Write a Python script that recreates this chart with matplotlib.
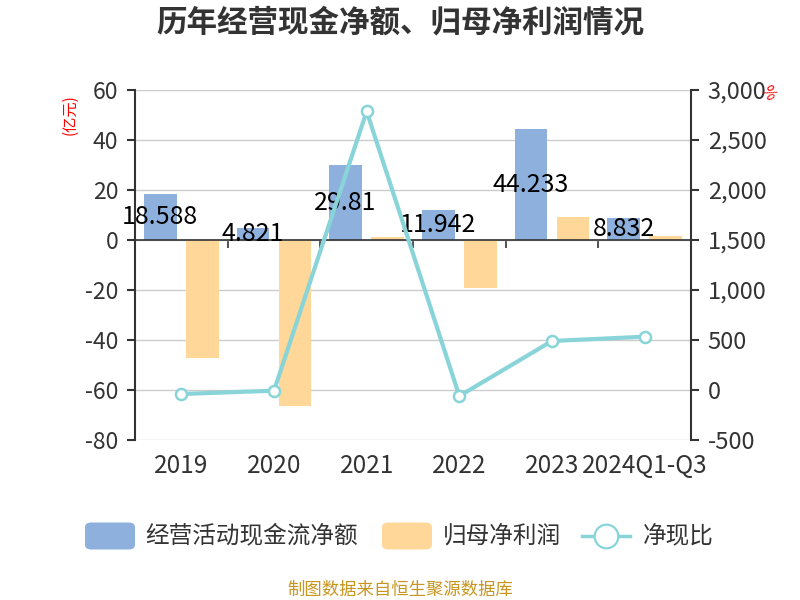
import matplotlib.pyplot as plt
import matplotlib.transforms as mtransforms
from matplotlib.patches import FancyBboxPatch
from matplotlib.lines import Line2D
import numpy as np

plt.rcParams['font.family'] = ['Noto Sans CJK SC', 'DejaVu Sans']
plt.rcParams['axes.unicode_minus'] = False

# 数据
years = ['2019', '2020', '2021', '2022', '2023', '2024Q1-Q3']
cash_flow = [18.588, 4.821, 29.81, 11.942, 44.233, 8.832]      # 经营活动现金流净额（亿元）
net_profit = [-47.0, -66.5, 1.07, -19.0, 9.05, 1.66]           # 归母净利润（亿元）
cash_ratio = [-40, -7, 2786, -60, 490, 533]                     # 净现比（%）
left_ticks = [60, 40, 20, 0, -20, -40, -60, -80]
right_ticks = [3000, 2500, 2000, 1500, 1000, 500, 0, -500]

c_blue = '#8eb0dc'
c_orange = '#ffd899'
c_line = '#88d4d8'
c_axis = '#333333'
c_grid = '#cccccc'

fig = plt.figure(figsize=(8, 6), dpi=100)
ax = fig.add_axes([135 / 800, 1 - 440 / 600, 556 / 800, 350 / 600])
ax2 = ax.twinx()

x = np.arange(len(years))
w = 0.35
off = 0.227
ax.bar(x - off, cash_flow, w, color=c_blue, zorder=2)
ax.bar(x + off, net_profit, w, color=c_orange, zorder=2)

# 柱子标签（位于柱子中部）
for xi, v in zip(x, cash_flow):
    ax.text(xi - off, v / 2, f'{v:g}', ha='center', va='center', fontsize=18, color='black', zorder=5)

ax.set_xlim(-0.5, len(years) - 0.5)
ax.set_ylim(-80, 60)
ax.set_yticks(left_ticks)
ax.yaxis.grid(True, color=c_grid, linewidth=1, zorder=0)
ax.set_axisbelow(True)

for s in ['top', 'right']:
    ax.spines[s].set_visible(False)
ax.spines['left'].set_color(c_axis)
ax.spines['left'].set_linewidth(1.5)
ax.spines['bottom'].set_position(('data', 0))
ax.spines['bottom'].set_color(c_axis)
ax.spines['bottom'].set_linewidth(1.2)
ax.spines['bottom'].set_zorder(3)

ax.set_xticks(x)
ax.set_xticklabels([])
ax.tick_params(axis='x', which='major', length=0)
ax.set_xticks(np.arange(0.5, len(years) - 1, 1), minor=True)
ax.tick_params(axis='x', which='minor', length=6, width=1.2, color=c_axis, direction='out')
ax.tick_params(axis='y', length=6, width=1.5, color=c_axis, labelcolor=c_axis, labelsize=16.5, pad=6)

trans = mtransforms.blended_transform_factory(ax.transData, ax.transAxes)
for xi, lab in zip(x, years):
    ax.text(xi, -0.075, lab, transform=trans, ha='center', va='center', fontsize=17.5, color=c_axis)

# 净现比折线
ax2.plot(x, cash_ratio, color=c_line, linewidth=3, marker='o', markersize=8,
         markerfacecolor='white', markeredgecolor=c_line, markeredgewidth=1.8, zorder=6)
ax2.set_ylim(-500, 3000)
ax2.set_yticks(right_ticks)
ax2.set_yticklabels([f'{t:,}' for t in right_ticks])
for s in ['top', 'left', 'bottom']:
    ax2.spines[s].set_visible(False)
ax2.spines['right'].set_color(c_axis)
ax2.spines['right'].set_linewidth(1.5)
ax2.tick_params(axis='y', length=6, width=1.5, color=c_axis, labelcolor=c_axis, labelsize=17, pad=6)

# 轴名称
fig.text(70 / 800, 1 - 115 / 600, '(亿元)', rotation=90, color='red', fontsize=11, ha='center', va='center')
fig.text(768 / 800, 1 - 93 / 600, '%', rotation=-60, color='red', fontsize=11, ha='center', va='center')

# 标题
fig.text(0.5, 1 - 22 / 600, '历年经营现金净额、归母净利润情况', ha='center', va='center',
         fontsize=22, fontweight='bold', color=c_axis)

# 图例
ly = 1 - 536 / 600
bw, bh = 50 / 800, 27 / 600
fig.patches.append(FancyBboxPatch((85 / 800, ly - bh / 2), bw, bh, boxstyle='round,pad=0,rounding_size=0.008',
                                  transform=fig.transFigure, facecolor=c_blue, edgecolor='none'))
fig.text(145 / 800, ly, '经营活动现金流净额', ha='left', va='center', fontsize=17, color=c_axis)
fig.patches.append(FancyBboxPatch((382 / 800, ly - bh / 2), bw, bh, boxstyle='round,pad=0,rounding_size=0.008',
                                  transform=fig.transFigure, facecolor=c_orange, edgecolor='none'))
fig.text(443 / 800, ly, '归母净利润', ha='left', va='center', fontsize=17, color=c_axis)
fig.lines.append(Line2D([582 / 800, 630 / 800], [ly, ly], transform=fig.transFigure, color=c_line, linewidth=2.5))
fig.lines.append(Line2D([606 / 800], [ly], transform=fig.transFigure, marker='o', markersize=17,
                        markerfacecolor='white', markeredgecolor=c_line, markeredgewidth=1.6))
fig.text(643 / 800, ly, '净现比', ha='left', va='center', fontsize=17, color=c_axis)

# 数据来源
fig.text(0.5, 1 - 590 / 600, '制图数据来自恒生聚源数据库', ha='center', va='center', fontsize=12.5, color='#c8961e')

fig.savefig('out.png', dpi=100)
